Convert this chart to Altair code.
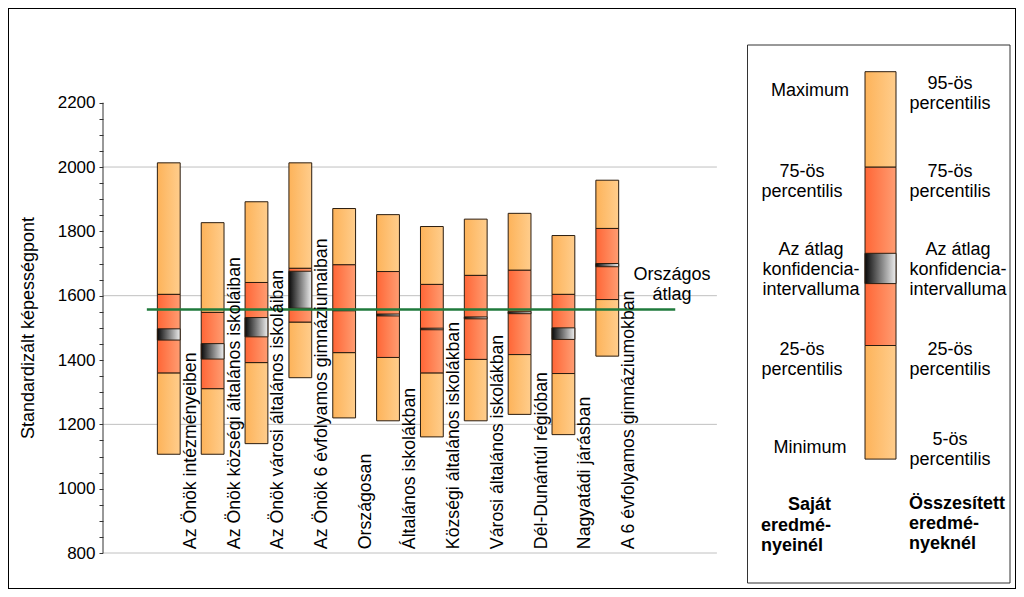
import altair as alt
import pandas as pd

FONT = "Liberation Sans"

# ---------------- data ----------------
categories = [
    "Az Önök intézményeiben",
    "Az Önök községi általános iskoláiban",
    "Az Önök városi általános iskoláiban",
    "Az Önök 6 évfolyamos gimnáziumaiban",
    "Országosan",
    "Általános iskolákban",
    "Községi általános iskolákban",
    "Városi általános iskolákban",
    "Dél-Dunántúl régióban",
    "Nagyatádi járásban",
    "A 6 évfolyamos gimnáziumokban",
]
minimum = [1107, 1107, 1140, 1345, 1220, 1211, 1161, 1211, 1231, 1168, 1412]
p25 = [1360, 1311, 1392, 1518, 1423, 1408, 1360, 1402, 1417, 1358, 1588]
ci_low = [1462, 1403, 1472, 1561, 1553, 1537, 1494, 1528, 1544, 1464, 1690]
ci_high = [1497, 1451, 1532, 1676, 1558, 1543, 1499, 1534, 1550, 1500, 1700]
p75 = [1604, 1548, 1641, 1685, 1696, 1675, 1635, 1663, 1679, 1604, 1809]
maximum = [2013, 1827, 1892, 2013, 1871, 1852, 1815, 1838, 1856, 1787, 1959]

national_avg = 1557
national_label = "Országos\nátlag"
grid_values = [800, 1200, 1600, 2000]
y_tick_values = list(range(800, 2201, 50))
y_title = "Standardizált képességpont"

legend_left = ["Maximum", "75-ös\npercentilis", "Az átlag\nkonfidencia-\nintervalluma",
               "25-ös\npercentilis", "Minimum"]
legend_right = ["95-ös\npercentilis", "75-ös\npercentilis", "Az átlag\nkonfidencia-\nintervalluma",
                "25-ös\npercentilis", "5-ös\npercentilis"]
legend_bold_left = ["Saját", "eredmé-\nnyeinél"]
legend_bold_right = "Összesített\neredmé-\nnyeknél"

df = pd.DataFrame({
    "cat": categories,
    "idx": list(range(len(categories))),
    "mn": minimum, "q1": p25, "cil": ci_low, "cih": ci_high, "q3": p75, "mx": maximum,
})

# ---------------- scales / styles ----------------
W, H = 1008, 581
xscale = alt.Scale(domain=[-3.6665, 19.321], nice=False, zero=False)
yscale = alt.Scale(domain=[688.1, 2494.4], nice=False, zero=False)

yaxis = alt.Axis(
    values=y_tick_values,
    labelExpr="datum.value % 200 === 0 ? datum.label : ''",
    format="d", domain=False, grid=False,
    ticks=True, tickSize=4, tickColor="#333333", tickWidth=1,
    labelFont=FONT, labelFontSize=17, labelColor="black", labelPadding=4,
    labelOverlap=False, labelBound=False,
    offset=-95,
    title=y_title, titleFont=FONT, titleFontSize=18, titleFontWeight="normal",
    titleColor="black", titlePadding=20, titleY=319.5,
)


def X(f):
    return alt.X(f, type="quantitative", scale=xscale, axis=None)


def Y(f):
    return alt.Y(f, type="quantitative", scale=yscale, axis=yaxis)


def hgrad(c0, c1):
    return alt.LinearGradient(
        gradient="linear", x1=0, x2=1, y1=0, y2=0,
        stops=[alt.GradientStop(offset=0, color=c0), alt.GradientStop(offset=1, color=c1)],
    )


LIGHT = hgrad("#fdb35a", "#ffcd8c")
RED = hgrad("#ff6636", "#ff9d72")
CI = hgrad("#0a0a0a", "#eeeeee")
EDGE = "#2b1d10"

base = alt.Chart(df).transform_calculate(xl="datum.idx - 0.26", xr="datum.idx + 0.26")

lower = base.mark_rect(fill=LIGHT, stroke=EDGE, strokeWidth=1).encode(x=X("xl"), x2="xr", y=Y("mn"), y2="q1")
upper = base.mark_rect(fill=LIGHT, stroke=EDGE, strokeWidth=1).encode(x=X("xl"), x2="xr", y=Y("q3"), y2="mx")
mid = base.mark_rect(fill=RED, stroke=EDGE, strokeWidth=1).encode(x=X("xl"), x2="xr", y=Y("q1"), y2="q3")
ci = base.mark_rect(fill=CI, stroke=EDGE, strokeWidth=1).encode(x=X("xl"), x2="xr", y=Y("cil"), y2="cih")

cat_labels = base.transform_calculate(ly="812").mark_text(
    font=FONT, fontSize=17.7, color="black", angle=270, align="left", baseline="middle", dy=22
).encode(x=X("idx"), y=Y("ly"), text="cat:N")

grid = alt.Chart(pd.DataFrame({"v": grid_values})).transform_calculate(
    x0="-1.5", x1="12.5").mark_rule(color="#c0c0c0", strokeWidth=1).encode(x=X("x0"), x2="x1", y=Y("v"))

axis_line = alt.Chart(pd.DataFrame({"a": [800], "b": [2200]})).transform_calculate(
    x0="-1.5").mark_rule(color="#333333", strokeWidth=1).encode(x=X("x0"), y=Y("a"), y2="b")

avg_line = alt.Chart(pd.DataFrame({"v": [national_avg]})).transform_calculate(
    x0="-0.5", x1="11.55").mark_rule(color="#1f7a3c", strokeWidth=2.5).encode(x=X("x0"), x2="x1", y=Y("v"))

avg_text = alt.Chart(pd.DataFrame({"t": [national_label]})).transform_calculate(
    tx="11.476", ty="1664").mark_text(
    font=FONT, fontSize=18, color="black", align="center", baseline="middle", lineBreak="\n", lineHeight=20
).encode(x=X("tx"), y=Y("ty"), text="t:N")

# ---------------- legend panel (pixel positioned decoration) ----------------
one = pd.DataFrame({"a": [0]})


def box(x0, x1, y0, y1, fill, stroke, sw=1):
    return alt.Chart(one).mark_rect(fill=fill, stroke=stroke, strokeWidth=sw).encode(
        x=alt.value(x0), x2=alt.value(x1), y=alt.value(y0), y2=alt.value(y1))


def txt(t, x, y, align="center", bold=False):
    return alt.Chart(one).mark_text(
        text=t, font=FONT, fontSize=18, color="black", align=align, baseline="middle",
        lineBreak="\n", lineHeight=20, fontWeight="bold" if bold else "normal",
    ).encode(x=alt.value(x), y=alt.value(y))


legend_layers = [
    box(739.5, 1002, 37, 575, "white", "#333333", 1),
    box(857, 888, 63.7, 159.2, LIGHT, EDGE),
    box(857, 888, 159.2, 337.5, RED, EDGE),
    box(857, 888, 245.3, 275.6, CI, EDGE),
    box(857, 888, 337.5, 451.1, LIGHT, EDGE),
]
left_pos = [(802, 83), (794, 164), (803, 242), (794, 342), (802, 440)]
right_pos = [(942, 75.7), (942, 164), (950, 242), (942, 342), (942, 432.4)]
for t, (x, y) in zip(legend_left, left_pos):
    legend_layers.append(txt(t, x, y))
for t, (x, y) in zip(legend_right, right_pos):
    legend_layers.append(txt(t, x, y))
legend_layers.append(txt(legend_bold_left[0], 780, 496.8, align="left", bold=True))
legend_layers.append(txt(legend_bold_left[1], 753, 517.5, align="left", bold=True))
legend_layers.append(txt(legend_bold_right, 901, 496, align="left", bold=True))

chart = alt.layer(
    grid, axis_line, lower, upper, mid, ci, avg_line, avg_text, cat_labels, *legend_layers
).properties(
    width=W, height=H, autosize=alt.AutoSizeParams(type="none"), padding=0,
    background="white",
).configure_view(stroke="black", strokeWidth=2)

chart.save("out.html", embed_options={"renderer": "svg", "actions": False})
